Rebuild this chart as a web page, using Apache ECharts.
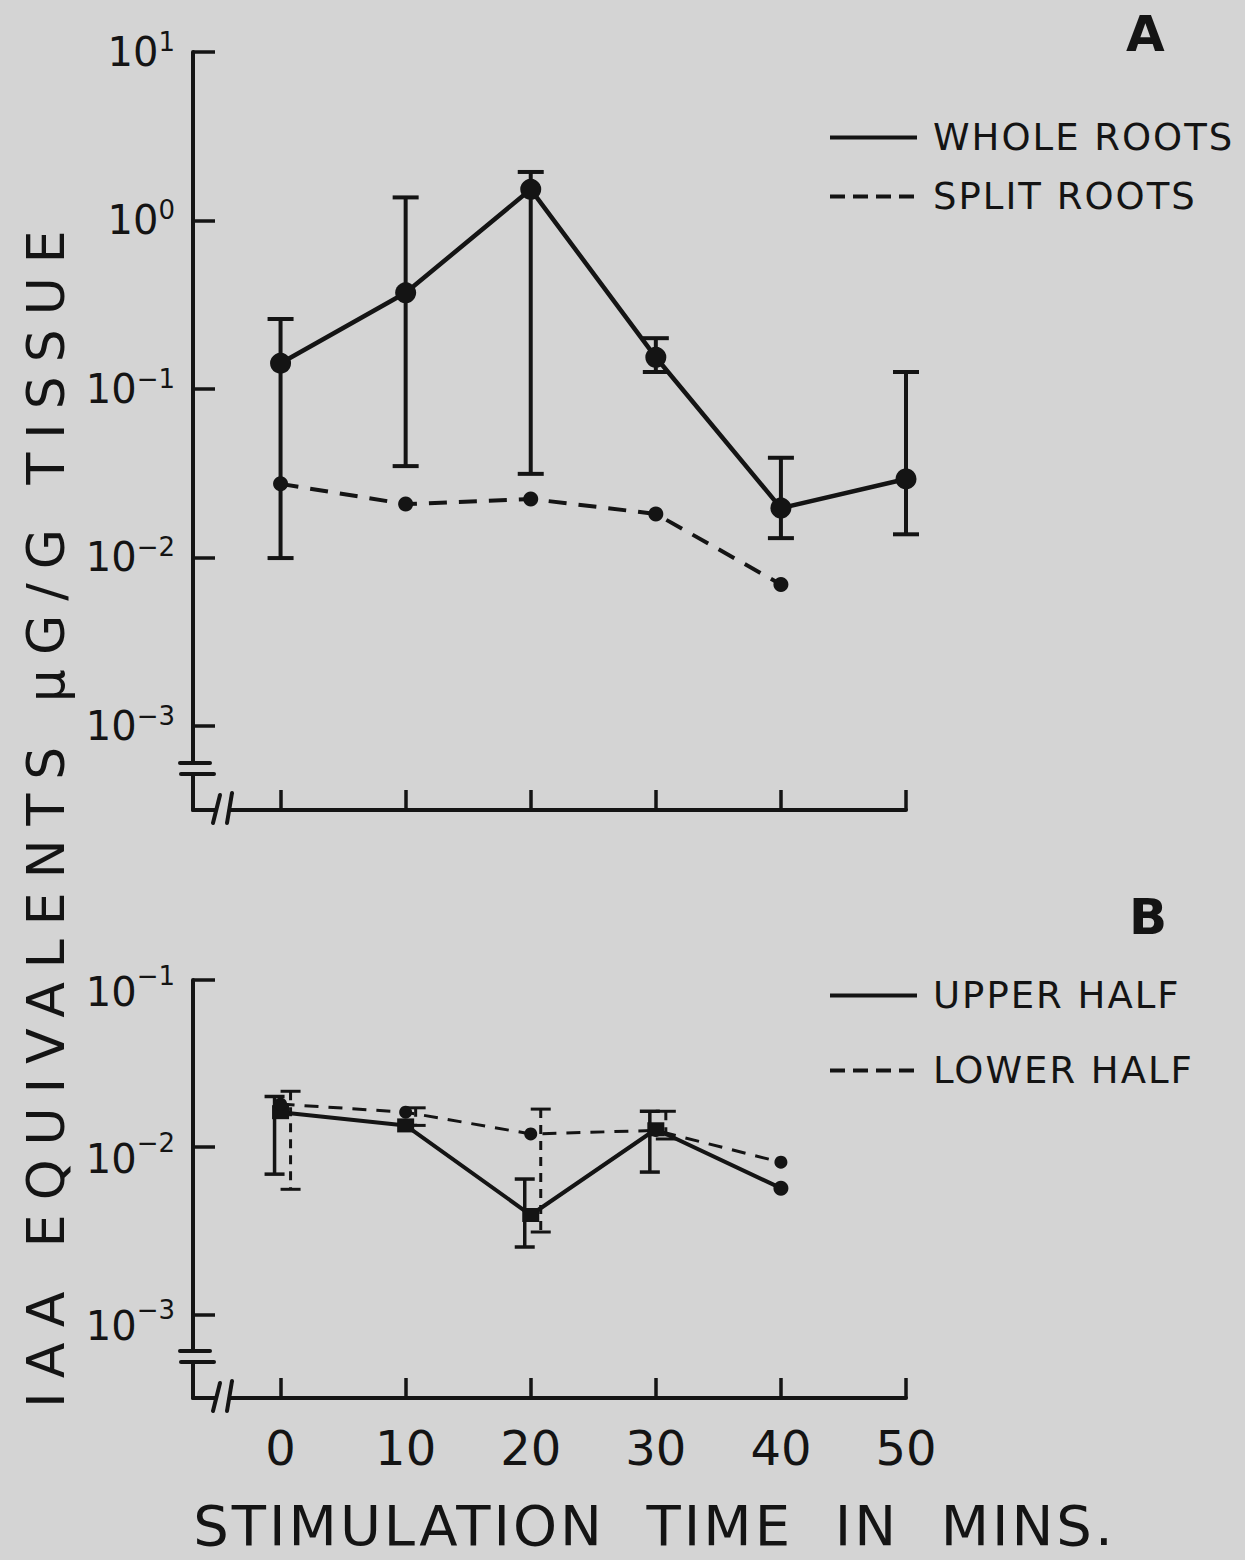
<!DOCTYPE html>
<html>
<head>
<meta charset="utf-8">
<title>IAA equivalents vs stimulation time</title>
<script src="https://cdn.jsdelivr.net/npm/echarts@6/dist/echarts.min.js"></script>
<style>
  html, body { margin: 0; padding: 0; background: #d4d4d4; }
  #chart { width: 1245px; height: 1560px; }
  /* wide hand-lettered spacing for the titles and legend words */
  #chart text[style*="52px"] { letter-spacing: 14px; }
  #chart text[style*="56px"] { letter-spacing: 3px; }
  #chart text[style*="37px"] { letter-spacing: 2px; }
</style>
</head>
<body>
<div id="chart"></div>
<script>
// ---- Panel A: whole vs split roots ----
const timesA = [0, 10, 20, 30, 40, 50];
const wholeRoots = [0.142, 0.372, 1.53, 0.154, 0.0196, 0.0292];
const wholeLow   = [0.0099, 0.0348, 0.0313, 0.126, 0.013, 0.0137];
const wholeHigh  = [0.26, 1.37, 1.94, 0.20, 0.039, 0.126];
const timesSplit = [0, 10, 20, 30, 40];
const splitRoots = [0.0273, 0.0207, 0.0222, 0.0181, 0.0069];

// ---- Panel B: upper vs lower half ----
const timesB = [0, 10, 20, 30, 40];
const upperHalf = [0.0162, 0.0135, 0.00393, 0.0128, 0.00569];
const upperLow  = [0.0069, null, 0.00253, 0.0071, null];
const upperHigh = [0.0201, null, 0.00645, 0.0164, null];
const lowerHalf = [0.0181, 0.0162, 0.0120, 0.0126, 0.00813];
const lowerLow  = [0.0056, 0.0135, 0.00311, 0.0112, null];
const lowerHigh = [0.0216, 0.0172, 0.0169, 0.0164, null];

// ---- Axis ticks / labels ----
const xTicks = [0, 10, 20, 30, 40, 50];
const yMaxA = 10, yMaxB = 0.1;
const yMin = Math.pow(10, -3.5);   // axis runs a little below 10^-3 to the broken corner
const xMin = -7;                   // axis corner sits left of t = 0

const INK = '#141414';
const PAPER = '#d4d4d4';
const FONT = 'DejaVu Sans';

function pts(xs, ys) { return xs.map((x, i) => [x, ys[i]]); }
function bars(xs, lo, hi) {
  return xs.map((x, i) => [x, lo[i], hi[i]]).filter(d => d[1] != null && d[2] != null);
}

// y labels as 10 with a raised exponent
function powerLabel(v) {
  const e = Math.log10(v);
  const r = Math.round(e);
  if (Math.abs(e - r) > 1e-6) return '';
  const exp = r < 0 ? '\u2212' + (-r) : String(r);
  return '{b|10}{e|' + exp + '}';
}

// vertical error bar with caps; shift moves it sideways so overlapping bars stay readable
function errorBar(shift, capHalf, width, dashed) {
  return function (params, api) {
    const x = api.value(0);
    const lo = api.coord([x, api.value(1)]);
    const hi = api.coord([x, api.value(2)]);
    const cx = lo[0] + shift;
    const solid = { stroke: INK, lineWidth: width };
    const stem = dashed ? { stroke: INK, lineWidth: width, lineDash: [9, 7] } : solid;
    return {
      type: 'group',
      children: [
        { type: 'line', shape: { x1: cx, y1: hi[1], x2: cx, y2: lo[1] }, style: stem },
        { type: 'line', shape: { x1: cx - capHalf, y1: hi[1], x2: cx + capHalf, y2: hi[1] }, style: solid },
        { type: 'line', shape: { x1: cx - capHalf, y1: lo[1], x2: cx + capHalf, y2: lo[1] }, style: solid }
      ]
    };
  };
}

// scale-break marks at the axis corner: "=" on the y axis, "//" on the x axis
function axisBreaks(params, api) {
  const c = api.coord([api.value(0), api.value(1)]);
  const s = { stroke: INK, lineWidth: 4, lineCap: 'round' };
  return {
    type: 'group',
    children: [
      { type: 'rect', shape: { x: c[0] - 6, y: c[1] - 45, width: 12, height: 8 }, style: { fill: PAPER } },
      { type: 'rect', shape: { x: c[0] + 23, y: c[1] - 6, width: 12, height: 12 }, style: { fill: PAPER } },
      { type: 'line', shape: { x1: c[0] - 13, y1: c[1] - 47, x2: c[0] + 17, y2: c[1] - 47 }, style: s },
      { type: 'line', shape: { x1: c[0] - 12, y1: c[1] - 36, x2: c[0] + 21, y2: c[1] - 36 }, style: s },
      { type: 'line', shape: { x1: c[0] + 27, y1: c[1] - 15, x2: c[0] + 20, y2: c[1] + 13 }, style: s },
      { type: 'line', shape: { x1: c[0] + 39, y1: c[1] - 17, x2: c[0] + 34, y2: c[1] + 13 }, style: s }
    ]
  };
}

const axisLineStyle = { color: INK, width: 4 };
const tickStyle = { color: INK, width: 3.5 };

function xAxisFor(gridIndex, showLabels) {
  return {
    type: 'value', gridIndex, min: xMin, max: 50,
    axisLine: { show: true, onZero: false, lineStyle: axisLineStyle },
    axisTick: { show: true, inside: true, length: 20, lineStyle: tickStyle },
    axisLabel: {
      show: showLabels, margin: 26, color: INK, fontFamily: FONT, fontSize: 48,
      formatter: v => (xTicks.indexOf(v) >= 0 ? String(v) : '')
    },
    splitLine: { show: false }
  };
}

function yAxisFor(gridIndex, max, rich) {
  return {
    type: 'log', gridIndex, min: yMin, max, logBase: 10,
    axisLine: { show: true, onZero: false, lineStyle: axisLineStyle },
    axisTick: { show: true, inside: true, length: 22, lineStyle: tickStyle },
    axisLabel: { show: true, margin: 18, formatter: powerLabel, rich },
    splitLine: { show: false },
    minorTick: { show: false }
  };
}

const richA = {
  b: { fontFamily: FONT, fontSize: 40, color: INK, lineHeight: 46 },
  e: { fontFamily: FONT, fontSize: 26, color: INK, lineHeight: 26, verticalAlign: 'top' }
};
const richB = {
  b: { fontFamily: FONT, fontSize: 40, color: INK, lineHeight: 46, padding: [24, 0, 0, 0] },
  e: { fontFamily: FONT, fontSize: 26, color: INK, lineHeight: 26, verticalAlign: 'top', padding: [6, 0, 0, 0] }
};

const legendText = { fontFamily: FONT, fontSize: 37, color: INK, padding: [0, 0, 0, 11] };
const legendLine = { width: 4 };

const option = {
  backgroundColor: PAPER,
  animation: false,
  title: [
    { text: 'A', left: 1121, top: 4, textStyle: { fontFamily: FONT, fontSize: 50, fontWeight: 'bold', color: INK } },
    { text: 'B', left: 1124, top: 887, textStyle: { fontFamily: FONT, fontSize: 50, fontWeight: 'bold', color: INK } }
  ],
  legend: [
    {
      data: ['WHOLE ROOTS', { name: 'SPLIT ROOTS', lineStyle: { type: [15, 8] } }],
      orient: 'vertical', left: 823, top: 114,
      itemWidth: 87, itemHeight: 14, itemGap: 22, selectedMode: false,
      itemStyle: { opacity: 0 }, lineStyle: legendLine, textStyle: legendText
    },
    {
      data: ['UPPER HALF', { name: 'LOWER HALF', lineStyle: { type: [15, 8] } }],
      orient: 'vertical', left: 823, top: 972,
      itemWidth: 87, itemHeight: 14, itemGap: 38, selectedMode: false,
      itemStyle: { opacity: 0 }, lineStyle: legendLine, textStyle: legendText
    }
  ],
  grid: [
    { left: 193, top: 52, width: 713, height: 758, containLabel: false, outerBoundsMode: 'none' },
    { left: 193, top: 980, width: 713, height: 418, containLabel: false, outerBoundsMode: 'none' }
  ],
  xAxis: [
    xAxisFor(0, false),
    Object.assign(xAxisFor(1, true), {
      name: 'STIMULATION  TIME  IN  MINS.', nameLocation: 'middle', nameGap: 103,
      nameTextStyle: { fontFamily: FONT, fontSize: 56, lineHeight: 48, color: INK, padding: [0, 0, 0, 210] }
    })
  ],
  yAxis: [yAxisFor(0, yMaxA, richA), yAxisFor(1, yMaxB, richB)],
  graphic: [
    {
      type: 'text', x: 46, y: 812, rotation: Math.PI / 2,
      style: {
        text: 'IAA EQUIVALENTS \u03bcG/G TISSUE', fontFamily: FONT, fontSize: 52,
        fill: INK, align: 'center', verticalAlign: 'middle'
      }
    }
  ],
  series: [
    // panel A
    {
      type: 'custom', name: 'whole roots range', xAxisIndex: 0, yAxisIndex: 0,
      renderItem: errorBar(0, 13, 4, false), data: bars(timesA, wholeLow, wholeHigh),
      encode: { x: 0, y: [1, 2] }, z: 3
    },
    {
      type: 'line', name: 'WHOLE ROOTS', xAxisIndex: 0, yAxisIndex: 0,
      data: pts(timesA, wholeRoots), symbol: 'circle', symbolSize: 21,
      lineStyle: { color: INK, width: 4.5 }, itemStyle: { color: INK }, z: 4
    },
    {
      type: 'line', name: 'SPLIT ROOTS', xAxisIndex: 0, yAxisIndex: 0,
      data: pts(timesSplit, splitRoots), symbol: 'circle', symbolSize: 15,
      lineStyle: { color: INK, width: 4, type: [18, 12] }, itemStyle: { color: INK }, z: 4
    },
    {
      type: 'custom', name: 'axis break A', xAxisIndex: 0, yAxisIndex: 0,
      renderItem: axisBreaks, data: [[xMin, yMin]], encode: { x: 0, y: 1 }, z: 5, silent: true
    },
    // panel B
    {
      type: 'custom', name: 'upper half range', xAxisIndex: 1, yAxisIndex: 1,
      renderItem: errorBar(-6, 10, 3.5, false), data: bars(timesB, upperLow, upperHigh),
      encode: { x: 0, y: [1, 2] }, z: 3
    },
    {
      type: 'custom', name: 'lower half range', xAxisIndex: 1, yAxisIndex: 1,
      renderItem: errorBar(10, 10, 3, true), data: bars(timesB, lowerLow, lowerHigh),
      encode: { x: 0, y: [1, 2] }, z: 3
    },
    {
      type: 'line', name: 'UPPER HALF', xAxisIndex: 1, yAxisIndex: 1,
      data: pts(timesB, upperHalf),
      symbol: (v, p) => (p.dataIndex === timesB.length - 1 ? 'circle' : 'rect'),
      symbolSize: (v, p) => (p.dataIndex === timesB.length - 1 ? 15 : [17, 14]),
      lineStyle: { color: INK, width: 4 }, itemStyle: { color: INK }, z: 4
    },
    {
      type: 'line', name: 'LOWER HALF', xAxisIndex: 1, yAxisIndex: 1,
      data: pts(timesB, lowerHalf), symbol: 'circle', symbolSize: 13,
      lineStyle: { color: INK, width: 3, type: [14, 10] }, itemStyle: { color: INK }, z: 4
    },
    {
      type: 'custom', name: 'axis break B', xAxisIndex: 1, yAxisIndex: 1,
      renderItem: axisBreaks, data: [[xMin, yMin]], encode: { x: 0, y: 1 }, z: 5, silent: true
    }
  ]
};

const chart = echarts.init(document.getElementById('chart'), null, { renderer: 'svg' });
chart.setOption(option);
</script>
</body>
</html>
